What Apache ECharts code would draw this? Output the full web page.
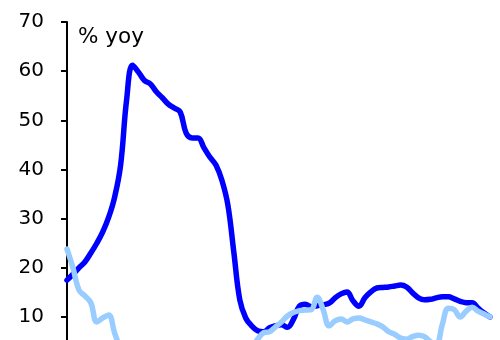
<!DOCTYPE html>
<html>
<head>
<meta charset="utf-8">
<style>
  html, body { margin: 0; padding: 0; background: #fff; }
  #chart { width: 500px; height: 340px; }
</style>
<script src="https://cdn.jsdelivr.net/npm/echarts@6/dist/echarts.min.js"></script>
</head>
<body>
<div id="chart"></div>
<script>
// Month index along the horizontal axis (0 = first month shown)
const months = Array.from({ length: 72 }, (_, i) => i);

// Dark series, % yoy, one value per month
const darkValues = [
  17.5, 18.7, 20.0, 21.2, 23.0, 25.0, 27.3, 30.3, 34.4, 40.9,
  54.1, 61.2, 59.8, 58.1, 57.4, 55.8, 54.6, 53.3, 52.5, 51.7,
  47.4, 46.4, 46.4, 44.4, 42.5, 40.9, 37.8, 32.8, 23.2, 13.5,
  9.8, 8.2, 7.2, 7.0, 7.8, 8.2, 8.4, 7.9, 9.5, 12.2,
  12.6, 12.1, 12.3, 12.5, 12.8, 13.9, 14.7, 15.1, 13.3, 12.2,
  13.9, 15.1, 15.9, 16.0, 16.1, 16.3, 16.5, 16.1, 14.9, 13.9,
  13.5, 13.6, 13.9, 14.1, 14.1, 13.7, 13.2, 12.9, 12.9, 11.8,
  10.8, 10.0
];

// Light series, % yoy, one value per month
const lightValues = [
  23.8, 20.0, 15.5, 14.3, 12.9, 9.0, 9.8, 10.4, 6.7, 3.5,
  1.0, -1.5, -3.0, -4.0, -5.0, -6.0, -7.0, -8.0, -8.5, -9.0,
  -9.0, -8.5, -8.0, -7.0, -6.0, -4.5, -3.0, -1.5, 0.0, 1.0,
  2.2, 3.8, 5.5, 6.8, 7.0, 8.0, 9.0, 10.2, 10.9, 11.3,
  11.4, 11.5, 14.0, 11.5, 8.2, 9.2, 9.6, 9.0, 9.6, 9.8,
  9.4, 9.0, 8.6, 8.0, 7.0, 6.5, 5.7, 5.5, 6.0, 6.3,
  6.0, 5.0, 4.5, 8.5, 11.8, 11.5, 10.0, 11.2, 12.0, 11.2,
  10.6, 10.0
];

// Value-axis ticks
const yTicks = { min: -20, max: 70, step: 10 };

const font = 'DejaVu Sans, Verdana, sans-serif';
const chart = echarts.init(document.getElementById('chart'), null, { renderer: 'canvas' });

chart.setOption({
  animation: false,
  backgroundColor: '#ffffff',
  // The plot runs on below the visible window; only the upper part is shown.
  grid: { left: 63, width: 427, top: 22, height: 442.5, containLabel: false, outerBoundsMode: 'none' },
  xAxis: {
    type: 'value',
    // small lead-in so the first month sits just right of the value axis
    min: -0.67,
    max: months[months.length - 1],
    show: false
  },
  yAxis: {
    type: 'value',
    min: yTicks.min,
    max: yTicks.max,
    interval: yTicks.step,
    splitLine: { show: false },
    axisLine: { show: true, lineStyle: { color: '#000', width: 2 } },
    axisTick: { show: true, inside: false, length: 6, lineStyle: { color: '#000', width: 2 } },
    axisLabel: {
      color: '#000',
      fontFamily: font,
      fontSize: 20,
      margin: 19
    }
  },
  graphic: [{
    type: 'text',
    left: 78,
    top: 26,
    style: { text: '% yoy', fill: '#000', font: '21.5px ' + font }
  }],
  series: [
    {
      name: 'dark',
      type: 'line',
      data: months.map((m, i) => [m, darkValues[i]]),
      smooth: 0.4,
      showSymbol: false,
      lineStyle: { color: '#0000ff', width: 5.5, cap: 'round', join: 'round' },
      z: 2
    },
    {
      name: 'light',
      type: 'line',
      data: months.map((m, i) => [m, lightValues[i]]),
      smooth: 0.4,
      showSymbol: false,
      lineStyle: { color: '#99ccff', width: 5.5, cap: 'round', join: 'round' },
      z: 3
    }
  ]
});
</script>
</body>
</html>
